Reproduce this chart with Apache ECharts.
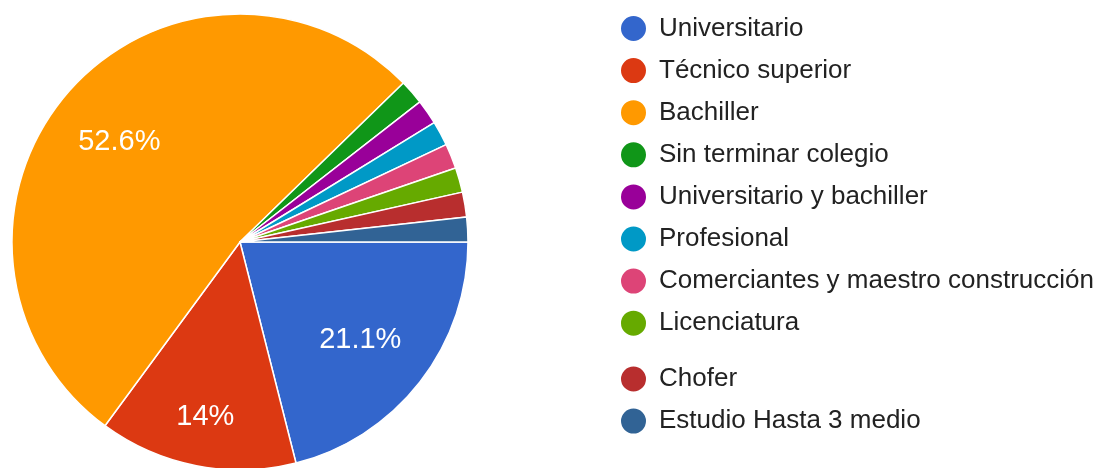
<!DOCTYPE html>
<html>
<head>
<meta charset="utf-8">
<script src="https://cdn.jsdelivr.net/npm/echarts@6/dist/echarts.min.js"></script>
<style>
    html, body { margin: 0; padding: 0; background: #fff; }
    #main { width: 1101px; height: 468px; }
</style>
</head>
<body>
<div id="main"></div>
<script>
var categories = ['Universitario', 'Técnico superior', 'Bachiller', 'Sin terminar colegio',
    'Universitario y bachiller', 'Profesional', 'Comerciantes y maestro construcción',
    'Licenciatura', 'Chofer', 'Estudio Hasta 3 medio'];
var counts = [12, 8, 30, 1, 1, 1, 1, 1, 1, 1];
var colors = ['#3366cc', '#dc3912', '#ff9900', '#109618', '#990099',
    '#0099c6', '#dd4477', '#66aa00', '#b82e2e', '#316395'];
var legendPage1 = categories.slice(0, 8);
var legendPage2 = categories.slice(8);

window.onload = function () {
    var total = counts.reduce(function (a, b) { return a + b; }, 0);
    var font = '"Liberation Sans", Arial, sans-serif';

    // small nudges so the labels sit where the original puts them
    var labelNudge = {
        'Universitario': [-6, 0],
        'Técnico superior': [-4, 18],
        'Bachiller': [0, 5]
    };

    var pieData = [];
    var labelData = [];
    for (var i = 0; i < categories.length; i++) {
        pieData.push({value: counts[i], name: categories[i], itemStyle: {color: colors[i]}});
        var item = {value: counts[i], name: categories[i]};
        if (labelNudge[categories[i]]) {
            item.label = {offset: labelNudge[categories[i]]};
        }
        labelData.push(item);
    }

    var legendCommon = {
        orient: 'vertical',
        left: 619,
        padding: 0,
        itemWidth: 27,
        itemHeight: 27,
        itemGap: 13.1,
        icon: 'circle',
        selectedMode: false,
        textStyle: {
            color: '#222',
            fontSize: 26,
            fontFamily: font,
            padding: [0, 0, 0, 7]
        }
    };

    var myChart = echarts.init(document.getElementById('main'));
    var option = {
        animation: false,
        legend: [
            Object.assign({}, legendCommon, {top: 14, data: legendPage1}),
            Object.assign({}, legendCommon, {top: 364.5, data: legendPage2})
        ],
        series: [
            {
                type: 'pie',
                center: [240, 242],
                radius: [0, 228],
                startAngle: 0,
                clockwise: true,
                silent: true,
                label: {show: false},
                labelLine: {show: false},
                itemStyle: {borderColor: '#fff', borderWidth: 1.5},
                data: pieData
            },
            {
                // transparent ring only used to place the percentage labels
                type: 'pie',
                center: [240, 242],
                radius: [86, 228],
                startAngle: 0,
                clockwise: true,
                silent: true,
                avoidLabelOverlap: false,
                itemStyle: {color: 'rgba(0,0,0,0)', borderWidth: 0},
                labelLine: {show: false},
                label: {
                    show: true,
                    position: 'inside',
                    color: '#fff',
                    fontSize: 29,
                    fontFamily: font,
                    formatter: function (p) {
                        var pct = p.value / total * 100;
                        if (pct < 5) return '';
                        return parseFloat(pct.toFixed(1)) + '%';
                    }
                },
                data: labelData
            }
        ]
    };
    myChart.setOption(option);
};
</script>
</body>
</html>
